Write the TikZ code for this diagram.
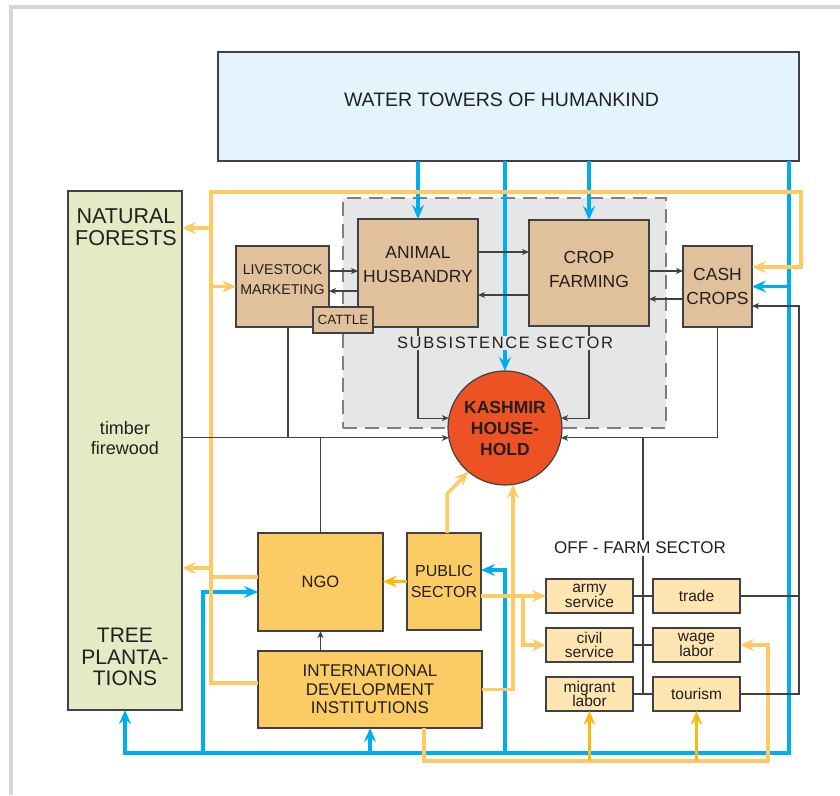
\documentclass[tikz,border=0pt]{standalone}
\usepackage{fontspec}
\setmainfont{Liberation Sans}
\usetikzlibrary{arrows.meta}

\definecolor{txtgray}{RGB}{35,31,32}
\definecolor{linegray}{RGB}{65,64,66}
\definecolor{framegray}{RGB}{214,214,217}
\definecolor{waterblue}{RGB}{0,174,239}
\definecolor{lightorange}{RGB}{254,202,100}
\definecolor{amber}{RGB}{253,185,19}
\definecolor{tanfill}{RGB}{224,193,155}
\definecolor{orangefill}{RGB}{251,204,99}
\definecolor{offfill}{RGB}{254,229,178}
\definecolor{skyfill}{RGB}{227,244,252}
\definecolor{hhred}{RGB}{237,82,36}
\definecolor{forestfill}{RGB}{226,235,196}
\definecolor{subsgray}{RGB}{229,230,232}

\tikzset{
  box/.style={draw=linegray, line width=1.2pt, inner sep=0pt, outer sep=0pt,
    text=txtgray, align=center},
  subsbox/.style={box, fill=tanfill},
  instbox/.style={box, fill=orangefill},
  offbox/.style={box, fill=offfill, minimum width=87pt, minimum height=34pt,
    font=\fontsize{15.5}{14.5}\selectfont},
  lbl/.style={inner sep=0pt, text=txtgray, align=center},
  bluearr/.style={draw=waterblue, line width=3.2pt,
    -{Stealth[length=14pt,width=12pt,inset=5pt]}},
  bluelin/.style={draw=waterblue, line width=3.2pt},
  orarr/.style={draw=lightorange, line width=3.5pt,
    -{Stealth[length=14pt,width=12pt,inset=5pt]}},
  orlin/.style={draw=lightorange, line width=3.5pt},
  ambarr/.style={draw=amber, line width=3.5pt,
    -{Stealth[length=14pt,width=12pt,inset=5pt]}},
  blk/.style={draw=linegray, line width=1.1pt},
  blkarr/.style={blk, -{Stealth[length=7pt,width=6pt,inset=2pt]}}
}

\begin{document}
\begin{tikzpicture}[x=1pt,y=-1pt]
\useasboundingbox (0,0) rectangle (840,795);
%% page frame
\fill[framegray] (9,5) rectangle (13,795);
\fill[framegray] (9,5) rectangle (840,9);

%% subsistence sector area
\node[fill=subsgray, draw=gray, line width=1.5pt, dash pattern=on 14pt off 8pt,
  minimum width=323pt, minimum height=230pt, inner sep=0pt] (subs) at (504.5,313) {};

%% boxes
\node[box, fill=skyfill, minimum width=581pt, minimum height=109pt] (wt) at (508.5,106.5) {};
\node[lbl, font=\fontsize{19.5}{22}\selectfont] (wtlbl) at (501.5,100) {WATER TOWERS OF HUMANKIND};
\node[box, fill=forestfill, minimum width=114pt, minimum height=519pt] (forest) at (125,450.5) {};
\node[lbl, font=\fontsize{21.5}{22}\selectfont] (forestlbl) at (126,227) {NATURAL\\FORESTS};
\node[lbl, font=\fontsize{18}{20}\selectfont] (timber) at (125,438) {timber\\firewood};
\node[lbl, font=\fontsize{21}{21.5}\selectfont] (plantlbl) at (125,657) {TREE\\PLANTA-\\TIONS};

\node[subsbox, minimum width=93pt, minimum height=81pt] (lm) at (282.5,286.5) {};
\node[lbl, font=\fontsize{14.2}{20}\selectfont] (lmlbl) at (282.5,280) {LIVESTOCK\\MARKETING};
\node[subsbox, minimum width=120pt, minimum height=108pt] (ah) at (418,273) {};
\node[lbl, font=\fontsize{17.5}{24}\selectfont] (ahlbl) at (418,265) {ANIMAL\\HUSBANDRY};
\node[subsbox, minimum width=60pt, minimum height=26pt,
  font=\fontsize{13.5}{16}\selectfont] (cattle) at (343,320) {CATTLE};
\node[subsbox, minimum width=120pt, minimum height=106pt] (cf) at (589,273) {};
\node[lbl, font=\fontsize{17.5}{24}\selectfont] (cflbl) at (589,269) {CROP\\FARMING};
\node[subsbox, minimum width=69pt, minimum height=81pt,
  font=\fontsize{17.5}{24}\selectfont] (cash) at (717.5,286.5) {CASH\\CROPS};

\node[circle, draw=linegray, line width=1.2pt, fill=hhred, minimum size=114pt,
  inner sep=0pt, outer sep=0pt, align=center, text=txtgray,
  font=\fontsize{17.5}{21}\bfseries] (hh) at (505,428) {KASHMIR\\HOUSE-\\HOLD};

\node[instbox, minimum width=125pt, minimum height=98pt,
  font=\fontsize{16.5}{20}\selectfont] (ngo) at (320.5,582) {NGO};
\node[instbox, minimum width=74pt, minimum height=97pt,
  font=\fontsize{16}{21}\selectfont] (ps) at (444,581.5) {PUBLIC\\SECTOR};
\node[instbox, minimum width=224pt, minimum height=77pt,
  font=\fontsize{17}{18.5}\selectfont] (idi) at (370,689.5) {INTERNATIONAL\\DEVELOPMENT\\INSTITUTIONS};

\node[offbox] (army) at (589.5,596) {army\\service};
\node[offbox] (trade) at (696.5,596) {trade};
\node[offbox] (civil) at (589.5,645) {civil\\service};
\node[offbox] (wage) at (696.5,645) {wage\\labor};
\node[offbox] (migrant) at (589.5,694) {migrant\\labor};
\node[offbox] (tourism) at (696.5,694) {tourism};

%% water flows
\draw[bluearr] (ah.north |- wt.south) -- (ah.north);
\draw[bluearr] (hh.north |- wt.south) -- (hh.north);
\draw[bluearr] (cf.north |- wt.south) -- (cf.north);
\coordinate (bR) at (789,161);
\coordinate (bB) at (789,753);
\draw[bluearr] (bR) -- (bB) -- (bB -| forest.south) -- (forest.south);
\draw[bluearr] (bR |- cash.east) -- (cash.east);
\coordinate (bN) at (203,592);
\draw[bluearr] (bB -| bN) -- (bN) -- (bN -| ngo.west);
\draw[bluearr] (bB -| idi.south) -- (idi.south);
\coordinate (bP) at (505,570);
\draw[bluearr] (bB -| bP) -- (bP) -- (bP -| ps.east);

%% money flows
\coordinate (oL) at (211,192);
\coordinate (oR) at (801,192);
\coordinate (iW) at ([yshift=6.5pt]idi.west);
\draw[orarr] (iW) -- (iW -| oL) -- (oL) -- (oR) -- (801,267) -- ([yshift=19.5pt]cash.east);
\coordinate (f1) at (211,228);
\draw[orarr] (f1) -- (f1 -| forest.east);
\draw[orarr] (lm.west -| oL) -- (lm.west);
\coordinate (n1) at ([yshift=5pt]ngo.west);
\draw[orlin] (n1) -- (n1 -| oL);
\coordinate (f3) at (211,568);
\draw[orarr] (f3) -- (f3 -| forest.east);
\draw[orarr] ([xshift=3pt]ps.north) -- ++(0,-39) -- (hh.230);
\draw[orarr] (idi.east) -- (idi.east -| hh.278) -- (hh.278);
\draw[orarr] (army.west -| ps.east) -- (army.west);
\coordinate (p1) at (523,596);
\draw[orarr] (p1) -- (p1 |- civil.west) -- (civil.west);
\coordinate (oB) at (424,761);
\coordinate (oE) at (768,761);
\draw[orarr] (idi.south -| oB) -- (oB) -- (oE) -- (oE |- wage.east) -- (wage.east);
\draw[ambarr] (migrant.south |- oB) -- (migrant.south);
\draw[ambarr] (tourism.south |- oB) -- (tourism.south);
\draw[ambarr] (ps.west) -- (ps.west -| ngo.east);

%% goods flows
\draw[blkarr] ([yshift=15.5pt]lm.east) -- ([yshift=2pt]ah.west);
\draw[blkarr] ([yshift=-18pt]ah.west) -- ([yshift=-4.5pt]lm.east);
\draw[blkarr] ([yshift=21pt]ah.east) -- ([yshift=21pt]cf.west);
\draw[blkarr] ([yshift=-22pt]cf.west) -- ([yshift=-22pt]ah.east);
\draw[blkarr] ([yshift=2pt]cf.east) -- ([yshift=15.5pt]cash.west);
\draw[blkarr] ([yshift=-12.5pt]cash.west) -- ([yshift=-26pt]cf.east);
\draw[blkarr] (ah.south) -- (ah.south |- hh.170) -- (hh.170);
\draw[blkarr] (cf.south) -- (cf.south |- hh.10) -- (hh.10);
\draw[blkarr] (cash.south) -- (cash.south |- hh.350) -- (hh.350);
\draw[blkarr] (forest.east |- hh.190) -- (hh.190);
\coordinate (lmd) at ([xshift=5.5pt]lm.south);
\draw[blk] (lmd) -- (lmd |- hh.190);
\draw[blk] (ngo.north) -- (ngo.north |- hh.190);
\draw[blkarr] (ngo.south |- idi.north) -- (ngo.south);
\coordinate (sp) at (643,438);
\draw[blk] (sp) -- (sp |- migrant.east);
\draw[blk] (army.east) -- (trade.west);
\draw[blk] (civil.east) -- (wage.west);
\draw[blk] (migrant.east) -- (tourism.west);
\coordinate (rk) at (799,306);
\draw[blk] (trade.east) -- (trade.east -| rk);
\draw[blkarr] (tourism.east) -- (tourism.east -| rk) -- (rk) -- (rk -| cash.east);

%% sector labels
\node[lbl, fill=subsgray, inner sep=1.5pt, font=\fontsize{16.5}{18}\selectfont\addfontfeature{LetterSpace=10}]
  (subslbl) at (505,343) {SUBSISTENCE SECTOR};
\node[lbl, fill=white, inner sep=2pt, font=\fontsize{17}{18}\selectfont]
  (offlbl) at (640,548) {OFF - FARM SECTOR};
\end{tikzpicture}
\end{document}
